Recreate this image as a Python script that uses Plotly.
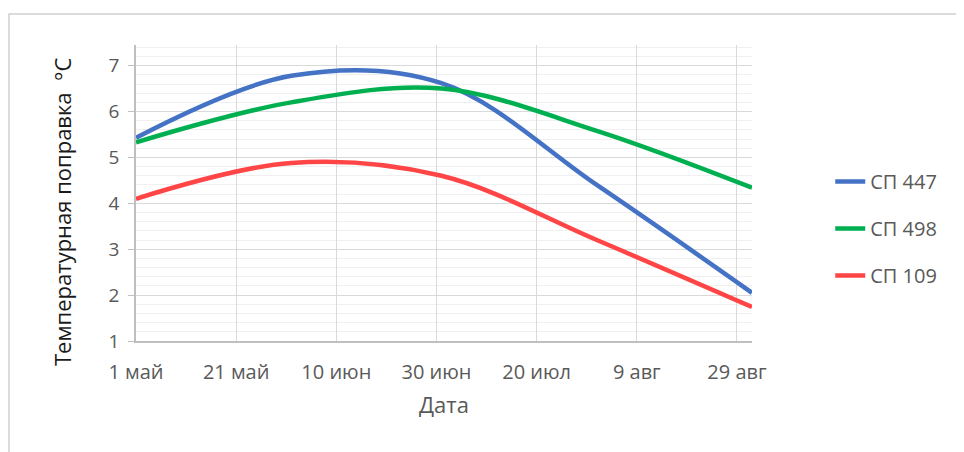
import plotly.graph_objects as go

dates = ["2019-05-01", "2019-06-01", "2019-07-01", "2019-08-01", "2019-09-01"]
sp447 = [5.43, 6.78, 6.62, 4.40, 2.05]
sp498 = [5.33, 6.20, 6.50, 5.58, 4.34]
sp109 = [4.10, 4.88, 4.60, 3.20, 1.74]

series_names = ["СП 447", "СП 498", "СП 109"]
series_values = [sp447, sp498, sp109]
colors = ["#4472C4", "#00B050", "#FF4545"]

tick_dates = ["2019-05-01", "2019-05-21", "2019-06-10", "2019-06-30",
              "2019-07-20", "2019-08-09", "2019-08-29"]
tick_labels = ["1 май", "21 май", "10 июн", "30 июн", "20 июл", "9 авг", "29 авг"]
y_ticks = [1, 2, 3, 4, 5, 6, 7]
y_title = "Температурная поправка  °C"

fig = go.Figure()
for i, (name, vals, col) in enumerate(zip(series_names, series_values, colors)):
    fig.add_trace(go.Scatter(
        x=dates, y=vals, name=name, mode="lines",
        line=dict(color=col, width=4.5, shape="spline", smoothing=1.0),
        legendgroup=f"g{i}",
    ))

# page body has an 8px margin, so the figure is sized/offset accordingly
W, H = 956, 444
L, R, T, B = 128, 212, 37, 111
pw, ph = W - L - R, H - T - B
def px(x): return (x - L) / pw
def py(y): return (H - B - y) / ph

font_family = "Open Sans, Noto Sans, sans-serif"
fig.update_layout(
    width=W, height=H,
    margin=dict(l=L, r=R, t=T, b=B, autoexpand=False),
    paper_bgcolor="white", plot_bgcolor="white",
    font=dict(family=font_family, color="#595959", size=17),
    showlegend=True,
    legend=dict(
        x=1.127, y=0.38, xanchor="left", yanchor="middle",
        traceorder="grouped", tracegroupgap=18,
        font=dict(size=20, color="#595959"),
        bgcolor="rgba(0,0,0,0)",
    ),
    xaxis=dict(
        type="date", automargin=False,
        range=["2019-05-01", "2019-09-01"],
        tickvals=tick_dates, ticktext=tick_labels,
        showgrid=True, gridcolor="#D9D9D9", gridwidth=1,
        showline=True, linecolor="#BFBFBF", linewidth=1.5,
        ticks="", ticklabelstandoff=12,
        tickfont=dict(size=20, color="#595959"),
        title=dict(text="Дата", font=dict(size=22, color="#595959"), standoff=14),
        zeroline=False,
    ),
    yaxis=dict(
        automargin=False,
        range=[1, 7.45],
        tickvals=y_ticks,
        showgrid=True, gridcolor="#D9D9D9", gridwidth=1,
        minor=dict(dtick=0.2, showgrid=True, gridcolor="#F0F0F0", gridwidth=1),
        showline=True, linecolor="#BFBFBF", linewidth=1.5,
        ticks="outside", ticklen=6, tickcolor="#BFBFBF",
        ticklabelstandoff=5,
        tickfont=dict(size=19, color="#595959"),
        zeroline=False,
    ),
)

fig.add_annotation(
    text=y_title, textangle=-90, showarrow=False,
    xref="paper", yref="paper", x=px(54), y=py(204),
    xanchor="center", yanchor="middle",
    font=dict(size=22, color="#1a1a1a", family=font_family),
)

# outer chart frame
fig.add_shape(type="rect", xref="paper", yref="paper",
              x0=px(1), x1=px(953), y0=py(470), y1=py(6),
              line=dict(color="#D0D0D0", width=1.5), layer="below")

fig.write_html("out.html")
